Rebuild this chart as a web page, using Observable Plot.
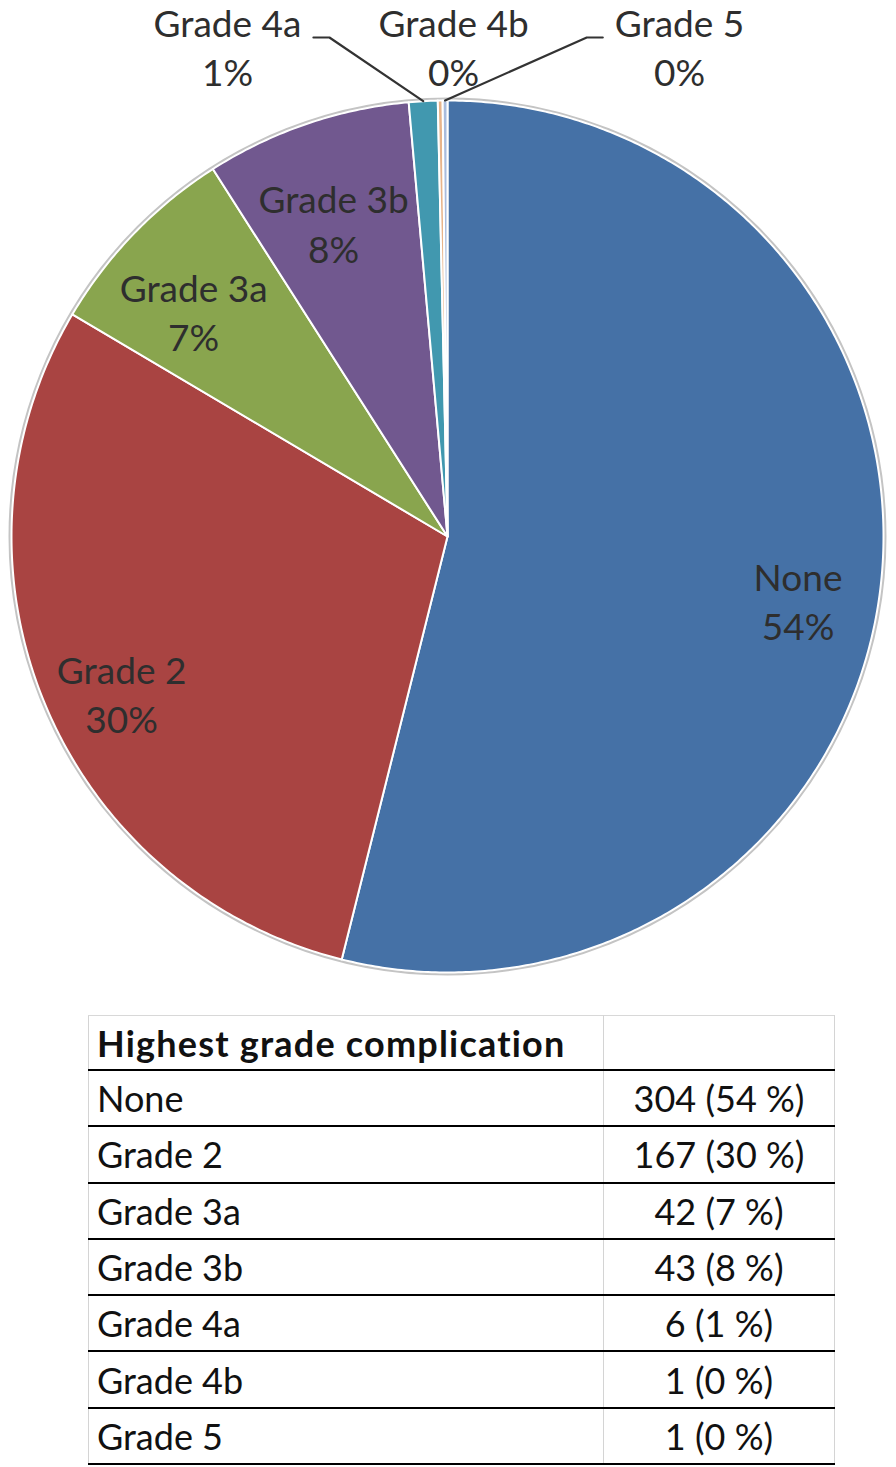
<!DOCTYPE html>
<html>
<head>
<meta charset="utf-8">
<script src="https://cdn.jsdelivr.net/npm/d3@7"></script>
<script src="https://cdn.jsdelivr.net/npm/@observablehq/plot@0.6"></script>
<style>
  html, body { margin: 0; padding: 0; background: #fff; }
  #chart svg { display: block; }
  table.grades {
    margin-left: 88px;
    margin-top: 15px;
    width: 747px;
    border-collapse: collapse;
    font-family: Lato, "Open Sans", sans-serif;
    font-size: 36px;
    color: #111;
  }
  table.grades td {
    height: 54.3px;
    padding: 0 8px;
    border-left: 1px solid #d4d4d4;
    border-right: 1px solid #d4d4d4;
    border-bottom: 2.5px solid #000;
    line-height: 1;
  }
  table.grades tr:first-child td { height: 53px; border-top: 1px solid #d8d8d8; font-weight: bold; letter-spacing: 1.2px; }
  table.grades td.v { text-align: center; width: 214px; }
</style>
</head>
<body>
<div id="chart"></div>
<script>
// ---- data ----
const categories = ["None", "Grade 2", "Grade 3a", "Grade 3b", "Grade 4a", "Grade 4b", "Grade 5"];
const counts = [304, 167, 42, 43, 6, 1, 1];
const colors = ["#4571A6", "#A94442", "#89A54E", "#71588F", "#4198AF", "#E8B48A", "#A9BCDD"];
const tableHeader = "Highest grade complication";

// ---- layout constants ----
const W = 896, H = 1000;
const cx = 447, cy = 536, R = 436;
const FS = 37;
const FONT = "Lato, sans-serif";
const total = d3.sum(counts);
const pct = counts.map(c => Math.round(c / total * 100));

const pie = d3.pie().sort(null).value(d => d)(counts);

// text measuring for leader-line placement
const ctx = document.createElement("canvas").getContext("2d");
ctx.font = `${FS}px Lato`;
const textW = s => ctx.measureText(s).width;

// wedge outlines (angles from 12 o'clock, clockwise)
const pt = (a, r) => [cx + Math.sin(a) * r, cy - Math.cos(a) * r];
const wedges = [];
pie.forEach((p, i) => {
  const n = Math.max(2, Math.ceil((p.endAngle - p.startAngle) / (Math.PI / 360)));
  wedges.push({name: categories[i], x: cx, y: cy});
  for (let k = 0; k <= n; k++) {
    const a = p.startAngle + (p.endAngle - p.startAngle) * k / n;
    const [x, y] = pt(a, R);
    wedges.push({name: categories[i], x, y});
  }
});

// labels
const labels = [];
const leaders = [];
let outsideIdx = 0;
pie.forEach((p, i) => {
  const mid = (p.startAngle + p.endAngle) / 2;
  const text = categories[i] + "\n" + pct[i] + "%";
  if (pct[i] >= 3) {
    const [x, y] = pt(mid, R * 0.81);
    labels.push({x, y: y + 20, text});
  } else {
    const lx = cx + 6 + (outsideIdx - 1) * 226;
    const ly = cy - R - 55;
    labels.push({x: lx, y: ly, text});
    const [ax, ay] = pt(mid, R);
    if (Math.abs(lx - ax) > 40) {
      const side = ax > lx ? 1 : -1;
      const half = textW(categories[i]) / 2;
      const sx = lx + side * (half + 12), ex = sx + side * 16, sy = ly - 8;
      leaders.push({name: categories[i], x: sx, y: sy});
      leaders.push({name: categories[i], x: ex, y: sy});
      leaders.push({name: categories[i], x: ax, y: ay});
    }
    outsideIdx++;
  }
});

const chart = Plot.plot({
  width: W,
  height: H,
  margin: 0,
  x: {type: "identity", axis: null},
  y: {type: "identity", axis: null},
  r: {type: "identity"},
  color: {domain: categories, range: colors},
  marks: [
    Plot.dot([{x: cx, y: cy}], {x: "x", y: "y", r: R + 1.5, stroke: "#c4c4c4", strokeWidth: 3, fill: "none"}),
    Plot.line(wedges, {x: "x", y: "y", z: "name", fill: "name", stroke: "#ffffff", strokeWidth: 2, curve: "linear-closed"}),
    Plot.line(leaders, {x: "x", y: "y", z: "name", stroke: "#333", strokeWidth: 2.2}),
    Plot.text(labels, {x: "x", y: "y", text: "text", fontSize: FS, fontFamily: FONT, fill: "#2e2e2e", lineHeight: 1.33})
  ]
});
document.getElementById("chart").appendChild(chart);

// ---- table ----
const table = document.createElement("table");
table.className = "grades";
const hr = table.insertRow();
const h1 = hr.insertCell(); h1.textContent = tableHeader;
const h2 = hr.insertCell(); h2.className = "v";
categories.forEach((c, i) => {
  const r = table.insertRow();
  r.insertCell().textContent = c;
  const v = r.insertCell(); v.className = "v";
  v.textContent = `${counts[i]} (${pct[i]} %)`;
});
document.body.appendChild(table);
</script>
</body>
</html>
